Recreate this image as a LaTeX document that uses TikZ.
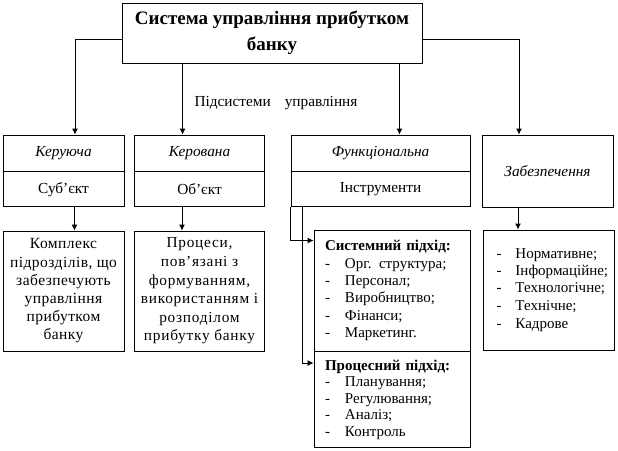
\documentclass[tikz,border=0pt]{standalone}
\usepackage{fontspec}
\setmainfont{Liberation Serif}
\usepackage{tikz}
\usetikzlibrary{positioning}
\usetikzlibrary{arrows.meta}

\newcommand{\punkt}[2][17pt]{\makebox[#1][l]{-}#2}

\tikzset{
  blok/.style={draw, line width=0.9pt, inner sep=2pt, align=center,
    font=\fontsize{15.3}{17}\selectfont},
  nazva/.style={blok, font=\itshape\fontsize{15.3}{17}\selectfont},
  spysok/.style={blok, align=left, font=\fontsize{15}{17.3}\selectfont},
  arr/.style={line width=0.9pt, -{Latex[length=6pt,width=6pt]}},
}

\begin{document}
\begin{tikzpicture}[x=1pt, y=-1pt]
    \useasboundingbox (0,0) rectangle (618,450);

    % head box
    \node[blok, minimum width=300pt, minimum height=60pt,
      font=\bfseries\fontsize{19}{26}\selectfont] (top) at (272,33)
      {Система управління прибутком\\банку};
    \node[font=\fontsize{15.3}{17}\selectfont] (pidsys) at (276,103)
      {Підсистеми\hspace{14pt}управління};

    % subsystems
    \node[nazva, minimum width=121pt, minimum height=36pt] (keruiucha) at (63.5,153) {Керуюча};
    \node[blok, minimum width=121pt, minimum height=35pt, below=0pt of keruiucha] (subiekt) {Суб’єкт};
    \node[nazva, minimum width=130pt, minimum height=36pt] (kerovana) at (199.5,153) {Керована};
    \node[blok, minimum width=130pt, minimum height=35pt, below=0pt of kerovana] (obiekt) {Об’єкт};
    \node[nazva, minimum width=179pt, minimum height=36pt] (funk) at (380.5,153) {Функціональна};
    \node[blok, minimum width=179pt, minimum height=35pt, below=0pt of funk] (instr) {Інструменти};
    \node[nazva, minimum width=131pt, minimum height=72pt] (zabezp) at (547.5,171) {Забезпечення};

    % lower row
    \node[blok, minimum width=121pt, minimum height=120pt, font=\fontsize{15.5}{18.2}\selectfont\addfontfeatures{LetterSpace=3}] (kompleks) at (63.5,291)
      {Комплекс\\підрозділів, що\\забезпечують\\управління\\прибутком\\банку};
    \node[blok, minimum width=130pt, minimum height=120pt, font=\fontsize{15.3}{18.6}\selectfont\addfontfeatures{LetterSpace=5}] (protsesy) at (199.5,291)
      {Процеси,\\пов’язані з\\формуванням,\\використанням і\\розподілом\\прибутку банку};
    \node[spysok, minimum height=121pt, text width=134pt, inner xsep=11pt] (systpid) at (392,290.5)
      {\textbf{Системний підхід:}\\
       \punkt[20pt]{Орг. структура;}\\ \punkt[20pt]{Персонал;}\\ \punkt[20pt]{Виробництво;}\\
       \punkt[20pt]{Фінанси;}\\ \punkt[20pt]{Маркетинг.}};
    \node[spysok, minimum height=96pt, text width=134pt, inner xsep=11pt, font=\fontsize{15}{16.5}\selectfont] (protspid) at (392,399.5)
      {\textbf{Процесний підхід:}\\
       \punkt[20pt]{Планування;}\\ \punkt[20pt]{Регулювання;}\\ \punkt[20pt]{Аналіз;}\\ \punkt[20pt]{Контроль}};
    \node[spysok, minimum height=120pt, text width=105pt, inner xsep=13pt] (zabvydy) at (549,290)
      {\punkt[19pt]{Нормативне;}\\ \punkt[19pt]{Інформаційне;}\\ \punkt[19pt]{Технологічне;}\\
       \punkt[19pt]{Технічне;}\\[1pt] \punkt[19pt]{Кадрове}};

    % connectors
    \draw[arr] ([yshift=-6pt]top.west) -| ([xshift=11.5pt]keruiucha.north);
    \draw[arr] ([xshift=61pt]top.south west) -- ([xshift=61pt]top.south west |- kerovana.north);
    \draw[arr] ([xshift=-23pt]top.south east) -- ([xshift=-23pt]top.south east |- funk.north);
    \draw[arr] ([yshift=-6pt]top.east) -| ([xshift=-28.5pt]zabezp.north);

    \draw[arr] ([xshift=11pt]subiekt.south) -- ([xshift=11pt]subiekt.south |- kompleks.north);
    \draw[arr] ([xshift=-17.5pt]obiekt.south) -- ([xshift=-17.5pt]obiekt.south |- protsesy.north);
    \draw[arr] ([xshift=-29.5pt]zabezp.south) -- ([xshift=-29.5pt]zabezp.south |- zabvydy.north);
    \draw[arr] (instr.south west) |- ([yshift=-11pt]systpid.north west);
    \draw[arr] ([xshift=12pt]instr.south west) |- ([yshift=-12pt]protspid.north west);
\end{tikzpicture}
\end{document}
